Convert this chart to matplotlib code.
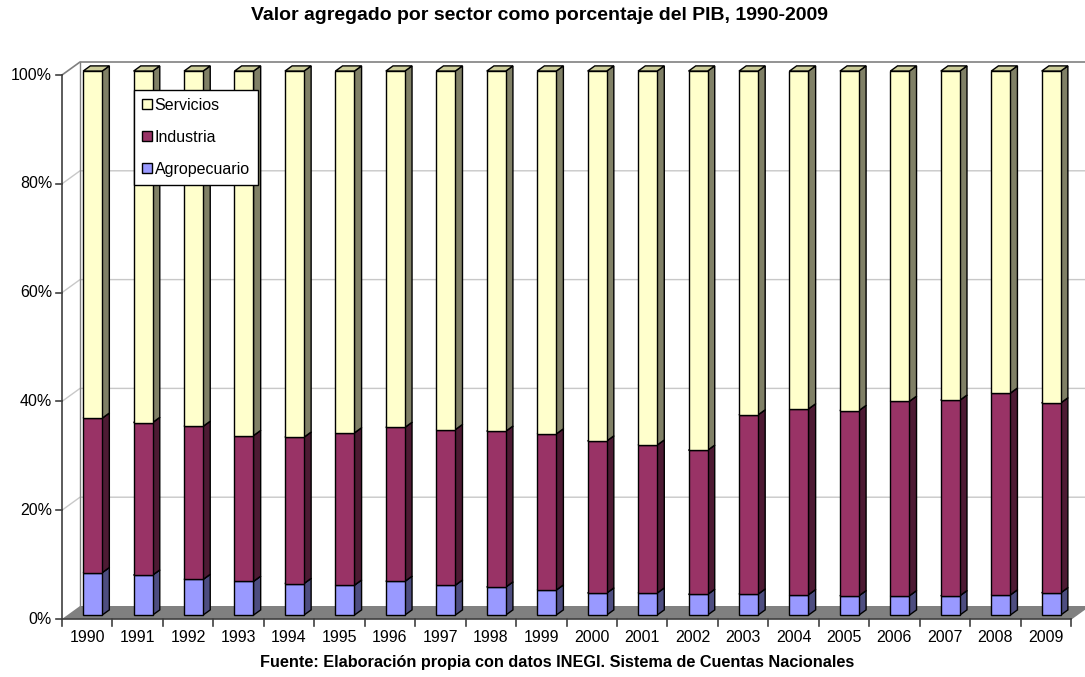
import matplotlib
matplotlib.use("Agg")
import matplotlib.pyplot as plt
from matplotlib.patches import Polygon, Patch

years = [str(y) for y in range(1990, 2010)]
agro = [7.8, 7.35, 6.55, 6.2, 5.8, 5.5, 6.2, 5.5, 5.15, 4.6,
        4.05, 4.05, 3.8, 3.85, 3.75, 3.55, 3.55, 3.55, 3.7, 4.1]
total_ind = [36.2, 35.4, 34.7, 33.0, 32.7, 33.5, 34.5, 34.1, 33.8, 33.3,
             32.0, 31.25, 30.3, 36.8, 37.9, 37.6, 39.3, 39.5, 40.8, 39.0]
industria = [round(t - a, 2) for t, a in zip(total_ind, agro)]
servicios = [round(100 - t, 2) for t in total_ind]
series = ["Agropecuario", "Industria", "Servicios"]
yticks = [0, 20, 40, 60, 80, 100]

# front / side / top shades per series
COLORS = {
    "Agropecuario": ("#9999ff", "#4d4d80", "#7a7acc"),
    "Industria": ("#993366", "#4d1a33", "#7a2952"),
    "Servicios": ("#ffffcc", "#808066", "#cccc99"),
}
WALL_EDGE, GRID, FLOOR = "#808080", "#c8c8c8", "#808080"

FONT = "Liberation Sans"
plt.rcParams["font.family"] = FONT

fig = plt.figure(figsize=(10.85, 6.77), dpi=100)
ax = fig.add_axes([0, 0, 1, 1])
SLOT, YPX = 50.45, 5.44          # pixels per category / per percent
ax.set_xlim(-62 / SLOT, (1085 - 62) / SLOT)
ax.set_ylim(-58 / YPX, (677 - 58) / YPX)
ax.axis("off")

n = len(years)
DX, DY = 18 / SLOT, 13 / YPX      # full depth of the box
Z0, Z1 = 0.3, 0.7                 # bar depth range
BW = 0.377                        # bar width (slot units)


def poly(pts, fc, ec, lw=1.0, z=1):
    ax.add_patch(Polygon(pts, closed=True, facecolor=fc, edgecolor=ec, lw=lw, zorder=z))


# walls and floor
poly([(DX, DY), (n + DX, DY), (n + DX, 100 + DY), (DX, 100 + DY)], "white", "none", z=0)
poly([(0, 0), (DX, DY), (DX, 100 + DY), (0, 100)], "white", "none", z=0)
for v in yticks[1:-1]:
    ax.plot([0, DX, n + DX], [v, v + DY, v + DY], color=GRID, lw=1, zorder=0.5)
ax.plot([0, DX, n + DX], [100, 100 + DY, 100 + DY], color=WALL_EDGE, lw=1.2, zorder=0.6)
ax.plot([DX, DX], [DY, 100 + DY], color=WALL_EDGE, lw=1, zorder=0.6)
poly([(0, 0), (n, 0), (n + DX, DY), (DX, DY)], FLOOR, "none", z=0.7)
ax.plot([n, n + DX], [0, DY], color=WALL_EDGE, lw=1, zorder=0.8)

# axes lines and ticks
ax.plot([0, 0], [0, 100], color="#404040", lw=1.2, zorder=0.9)
ax.plot([0, n], [0, 0], color="#404040", lw=1.2, zorder=0.9)
for v in yticks:
    ax.plot([-6 / SLOT, 0], [v, v], color="#404040", lw=1.2)
    ax.text(-10 / SLOT, v, f"{v}%", ha="right", va="center", fontsize=11.5)
for i in range(n + 1):
    ax.plot([i, i], [0, -7 / YPX], color="#404040", lw=1.2)
for i, yr in enumerate(years):
    ax.text(i + 0.5, -19 / YPX, yr, ha="center", va="center", fontsize=11.5)

# stacked 3D bars
values = {"Agropecuario": agro, "Industria": industria, "Servicios": servicios}
for i in range(n):
    base = 0.0
    for k, name in enumerate(series):
        h = values[name][i]
        fc, sc, tc = COLORS[name]
        x0 = i + 0.5 - BW / 2 + Z0 * DX
        x1 = x0 + BW
        y0, y1 = base + Z0 * DY, base + h + Z0 * DY
        ddx, ddy = (Z1 - Z0) * DX, (Z1 - Z0) * DY
        zo = 2 + i * 0.01 + k * 0.001
        poly([(x1, y0), (x1 + ddx, y0 + ddy), (x1 + ddx, y1 + ddy), (x1, y1)], sc, "black", z=zo)
        poly([(x0, y1), (x1, y1), (x1 + ddx, y1 + ddy), (x0 + ddx, y1 + ddy)], tc, "black", z=zo)
        poly([(x0, y0), (x1, y0), (x1, y1), (x0, y1)], fc, "black", z=zo)
        base += h

ax.text((539 - 62) / SLOT, (619 - 16) / YPX, "Valor agregado por sector como porcentaje del PIB, 1990-2009",
        ha="center", va="center", fontsize=14, fontweight="bold")
ax.text((557 - 62) / SLOT, (619 - 663) / YPX,
        "Fuente: Elaboración propia con datos INEGI. Sistema de Cuentas Nacionales",
        ha="center", va="center", fontsize=11.7, fontweight="bold")

handles = [Patch(facecolor=COLORS[s][0], edgecolor="black", lw=1) for s in series[::-1]]
leg = fig.legend(handles, series[::-1], loc="upper left", bbox_to_anchor=(134 / 1085, 1 - 90 / 677),
                 borderaxespad=0, fontsize=11.5, frameon=True, fancybox=False, edgecolor="black",
                 framealpha=1, handlelength=0.6, handleheight=0.6, handletextpad=0.2,
                 labelspacing=1.05, borderpad=0.5)
leg.get_frame().set_linewidth(1)
leg.set_zorder(10)

fig.savefig("out.png", dpi=100)
